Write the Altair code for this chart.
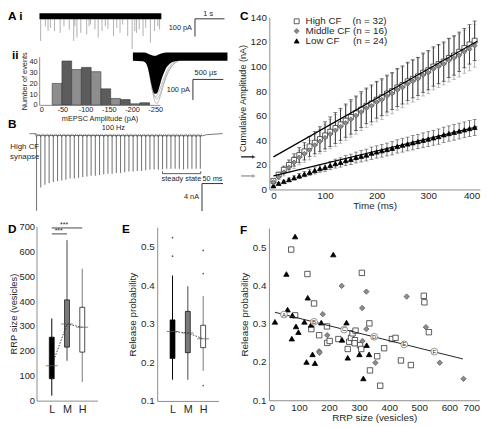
import altair as alt
import pandas as pd

CW, CH = 487, 419
DX, DY = 6, 5
def px(v): return v - DX
def py(v): return v - DY

FONT = "Liberation Sans"
AXC = "#8c8c8c"
INK = "#262626"
U = alt.Undefined

# ---------------- A i : spontaneous mEPSC trace ----------------
ai_event_t = [0.04, 0.20, 0.29, 0.37, 0.51, 0.70, 0.83, 1.01, 1.16, 1.20, 1.27, 1.40, 1.60, 1.68, 1.73,
              1.88, 1.99, 2.12, 2.23, 2.32, 2.51, 2.62, 2.73, 2.82, 2.99, 3.14, 3.23, 3.29, 3.38, 3.51,
              3.60, 3.76, 3.90, 4.01, 4.07]
ai_event_amp = [-139, -56, -83, -65, -83, -93, -56, -74, -139, -56, -120, -93, -102, -56, -46,
                -74, -120, -83, -56, -70, -111, -65, -93, -46, -111, -185, -83, -93, -74, -111,
                -65, -148, -83, -56, -74]
ai_trace_end = 4.13
ai_noise = 17
ai_bar_s, ai_bar_pA = 1.0, 100

# ---------------- A ii : amplitude histogram ----------------
aii_bin_lo = [-28, -49, -70, -91, -112, -133, -154, -175, -196, -217]
aii_bin_hi = [-49, -70, -91, -112, -133, -154, -175, -196, -217, -238]
aii_counts = [20, 41, 33, 35, 31, 15, 6, 5, 1, 2]

# ---------------- A ii : overlaid mEPSCs (us, pA) ----------------
aii_env_t = [0, 160, 210, 240, 270, 300, 330, 360, 390, 420, 450, 480, 520, 560, 600, 660, 760, 900, 1550]
aii_env_lo = [-20, -22, -30, -50, -85, -130, -165, -180, -178, -160, -130, -100, -70, -48, -35, -25, -20, -20, -20]
aii_env_hi = [20, 20, 19, 16, 12, 8, 5, 4, 6, 10, 14, 17, 19, 20, 20, 20, 20, 20, 20]
aii_g_t = [0, 200, 250, 290, 330, 370, 400, 440, 490, 550, 620, 720, 850, 1000, 1550]
aii_g1 = [0, -5, -40, -110, -180, -222, -225, -200, -150, -95, -55, -25, -8, 0, 0]
aii_g2 = [0, -5, -35, -95, -160, -200, -205, -185, -140, -90, -50, -22, -6, 0, 0]
aii_g3 = [0, -5, -45, -120, -175, -195, -185, -160, -120, -75, -40, -18, -5, 0, 0]
aii_bar_us, aii_bar_pA = 500, 100

# ---------------- B : 100 Hz train ----------------
b_t = [0, 10, 20, 30, 40, 50, 60, 70, 80, 90, 100, 110, 120, 130, 140, 150, 160, 170, 180, 190,
       200, 210, 220, 230, 240, 250, 260, 270, 280, 290, 300, 310, 320, 330, 340, 350, 360, 370, 380, 390]
b_amp = [11.1, 7.7, 7.3, 7.1, 6.9, 6.8, 6.7, 6.6, 6.4, 6.4, 6.3, 6.2, 6.1, 6.0, 6.0, 5.9, 5.8, 5.7, 5.7, 5.6,
         5.6, 5.5, 5.4, 5.4, 5.3, 5.3, 5.2, 5.1, 5.1, 5.1, 5.1, 5.0, 5.0, 5.0, 5.0, 5.1, 5.0, 5.0, 5.0, 5.0]
b_base_t = [-17, -1, 2, 395, 405, 443]
b_base_v = [0.1, 0.1, -0.15, -0.2, -0.05, 0.12]
b_bar_ms, b_bar_nA = 50, 4

# ---------------- C : cumulative amplitude ----------------
c_t = [0, 10, 20, 30, 40, 50, 60, 70, 80, 90, 100, 110, 120, 130, 140, 150, 160, 170, 180, 190,
       200, 210, 220, 230, 240, 250, 260, 270, 280, 290, 300, 310, 320, 330, 340, 350, 360, 370, 380, 390]
c_high = [7, 12, 16, 20, 24, 28, 31, 35, 38, 41, 44, 47, 50, 53, 56, 59, 62, 65, 68, 70,
          73, 75, 78, 80, 83, 85, 88, 90, 92, 95, 97, 100, 102, 104, 107, 109, 112, 115, 118, 121]
c_mid = [6, 10, 14, 18, 22, 26, 29, 32, 36, 39, 42, 45, 48, 51, 54, 57, 60, 63, 66, 68,
         71, 73, 76, 78, 81, 83, 86, 88, 90, 93, 95, 98, 100, 102, 105, 107, 109, 112, 114, 117]
c_low = [3, 5, 6.5, 8, 9.5, 11, 12.5, 14, 15.5, 17, 18, 19.5, 21, 22, 23.5, 24.5, 26, 27, 28, 29.5,
         30.5, 31.5, 32.5, 33.5, 35, 36, 37, 38, 39, 40, 41, 42, 43, 44.5, 45.5, 46.5, 47.5, 48.5, 49.5, 50.5]
c_high_err = [1, 2, 3, 4, 5, 6, 7, 8, 9, 10, 11, 12, 12.5, 13, 13.5, 14, 14, 14.5, 14.5, 15,
              15, 15, 15, 15, 15.5, 15.5, 15.5, 15.5, 15.5, 16, 16, 16, 16, 16, 16, 16, 16, 16, 16, 16]
c_mid_err = [1, 2, 3, 4, 5, 6, 7, 8, 9, 10, 11, 12, 13, 13.5, 14, 14.5, 15, 15, 15.5, 15.5,
             16, 16, 16, 16.5, 16.5, 16.5, 16.5, 17, 17, 17, 17, 17, 17, 17, 17.5, 17.5, 17.5, 17.5, 17.5, 17.5]
c_low_err = [0.5, 0.8, 1, 1.3, 1.6, 1.9, 2.2, 2.5, 2.8, 3, 3.2, 3.4, 3.6, 3.8, 4, 4.2, 4.4, 4.6, 4.8, 5,
             5, 5.2, 5.2, 5.4, 5.4, 5.6, 5.6, 5.8, 5.8, 6, 6, 6, 6.2, 6.2, 6.2, 6.4, 6.4, 6.4, 6.5, 6.5]
c_fit_t = [0, 395]
c_fit_high = [26.5, 120.5]
c_fit_low = [11, 51]
groups = ["High CF", "Middle CF", "Low CF"]
group_n = [32, 16, 24]

# ---------------- D / E : box plots ----------------
cats = ["L", "M", "H"]
d_wlo = [20, 160, 75]
d_q1 = [88, 215, 195]
d_med = [140, 308, 295]
d_q3 = [255, 405, 375]
d_whi = [330, 645, 530]
d_sig_y = [670, 694]
e_wlo = [0.155, 0.155, 0.178]
e_q1 = [0.21, 0.225, 0.238]
e_med = [0.280, 0.276, 0.261]
e_q3 = [0.310, 0.332, 0.296]
e_whi = [0.425, 0.397, 0.372]
e_out_cat = ["L", "L", "H", "H", "H"]
e_out_val = [0.475, 0.523, 0.43, 0.49, 0.14]

# ---------------- F : scatter ----------------
f_low_x = [20, 87, 58, 62, 78, 76, 90, 98, 118, 129, 140, 125, 145, 153, 174, 214, 243, 258, 262, 301, 325, 333, 314]
f_low_y = [0.305, 0.528, 0.430, 0.337, 0.322, 0.261, 0.293, 0.278, 0.305, 0.368, 0.297, 0.200, 0.220, 0.197,
           0.303, 0.481, 0.258, 0.303, 0.211, 0.220, 0.244, 0.220, 0.157]
f_high_x = [74, 87, 128, 150, 141, 167, 193, 194, 202, 231, 262, 267, 273, 278, 286, 288, 309, 303, 307, 334,
            336, 360, 370, 383, 409, 421, 439, 472, 515, 517, 532, 285]
f_high_y = [0.494, 0.322, 0.430, 0.353, 0.286, 0.270, 0.293, 0.250, 0.255, 0.260, 0.234, 0.253, 0.263, 0.275,
            0.257, 0.282, 0.433, 0.244, 0.234, 0.301, 0.178, 0.215, 0.138, 0.236, 0.260, 0.263, 0.204, 0.192,
            0.373, 0.356, 0.278, 0.249]
f_mid_x = [242, 324, 310, 179, 194, 167, 168, 324, 311, 354, 458, 522, 568, 647]
f_mid_y = [0.399, 0.384, 0.341, 0.325, 0.270, 0.228, 0.224, 0.286, 0.255, 0.198, 0.371, 0.291, 0.198, 0.156]
f_fit_x = [20, 645]
f_fit_y = [0.330, 0.208]
f_mark_x = [50, 150, 250, 350, 450, 550]
f_mark_y = [0.324, 0.305, 0.285, 0.266, 0.246, 0.227]
f_mark_lab = ["A", "B", "C", "D", "E", "F"]

# ======================================================================
one = pd.DataFrame({"k": [0]})

def QX(field, scale, axis=None):
    return alt.X(field, type="quantitative", scale=scale, axis=axis)

def QY(field, scale, axis=None):
    return alt.Y(field, type="quantitative", scale=scale, axis=axis)

def lin(domain, rng):
    return alt.Scale(domain=domain, range=rng, nice=False, zero=False)

def txt(size=7.5, **kw):
    return dict(font=FONT, fontSize=size, color=INK, **kw)

# ---------------- panel A i ----------------
ai_xs = lin([0, 10], [px(38), px(338)])
ai_ys = lin([-200, 0], [py(46), py(10)])
ai_ev = pd.DataFrame({"t": ai_event_t, "amp": ai_event_amp, "base": 0})
ai_band = pd.DataFrame({"t0": [0], "t1": [ai_trace_end], "lo": [-ai_noise], "hi": [ai_noise]})
ai_b0, ai_by = 5.27, -14
ai_sb = pd.DataFrame({"x": [ai_b0, ai_b0], "x2": [ai_b0 + ai_bar_s, ai_b0],
                      "y": [ai_by, ai_by], "y2": [ai_by, ai_by - ai_bar_pA]})
panel_ai = alt.layer(
    alt.Chart(ai_ev).mark_rule(color="#9c9c9c", strokeWidth=0.8).encode(
        x=QX("t", ai_xs), y=QY("base", ai_ys), y2="amp"),
    alt.Chart(ai_band).mark_rect(color="black").encode(
        x=QX("t0", ai_xs), x2="t1", y=QY("lo", ai_ys), y2="hi"),
    alt.Chart(ai_sb).mark_rule(color="#333", strokeWidth=1).encode(
        x=QX("x", ai_xs), x2="x2", y=QY("y", ai_ys), y2="y2"),
    alt.Chart(pd.DataFrame({"x": [ai_b0 + 0.45], "y": [ai_by], "s": ["1 s"]})).mark_text(
        baseline="bottom", dy=-1, **txt(7.5)).encode(x=QX("x", ai_xs), y=QY("y", ai_ys), text="s:N"),
    alt.Chart(pd.DataFrame({"x": [ai_b0], "y": [ai_by - ai_bar_pA / 2], "s": ["100 pA"]})).mark_text(
        align="right", dx=-3, **txt(7.5)).encode(x=QX("x", ai_xs), y=QY("y", ai_ys), text="s:N"),
)

# ---------------- panel A ii histogram ----------------
aii_xs = lin([0, -260], [px(37.7), px(160.4)])
aii_ys = lin([0, 45], [py(100), py(51)])
aii_df = pd.DataFrame({"lo": aii_bin_lo, "hi": aii_bin_hi, "n": aii_counts, "zero": 0,
                       "i": list(range(len(aii_counts)))})
aii_xaxis = alt.Axis(orient="bottom", offset=py(100) - CH, values=[0, -50, -100, -150, -200, -250],
                     labelExpr="'' + datum.value", title="mEPSC Amplitude (pA)",
                     labelFontSize=7.5, titleFontSize=7.5, labelPadding=1, titlePadding=1)
aii_yaxis = alt.Axis(orient="left", offset=-px(37.7), values=[0, 10, 20, 30, 40], title="Number of events",
                     labelFontSize=7.5, titleFontSize=7.5, labelPadding=2, titlePadding=1)
panel_aii = alt.layer(
    alt.Chart(aii_df).mark_rect(stroke="#3a3a3a", strokeWidth=0.6).encode(
        x=QX("lo", aii_xs, aii_xaxis), x2="hi", y=QY("n", aii_ys, aii_yaxis), y2="zero",
        fill=alt.condition("datum.i % 2 == 0", alt.value("#8e8e8e"), alt.value("#5c5c5c"))),
)

# ---------------- panel A ii overlaid traces ----------------
aiit_xs = lin([0, 2000], [px(133), px(257)])
aiit_ys = lin([-250, 0], [py(103.5), py(51)])
env_df = pd.DataFrame({"t": aii_env_t, "lo": aii_env_lo, "hi": aii_env_hi})
g_df = pd.DataFrame({"t": aii_g_t * 3, "v": aii_g1 + aii_g2 + aii_g3,
                     "id": [1] * len(aii_g_t) + [2] * len(aii_g_t) + [3] * len(aii_g_t)})
aii_b0 = 984
aii_sb = pd.DataFrame({"x": [aii_b0, aii_b0], "x2": [aii_b0 + aii_bar_us, aii_b0],
                       "y": [-110, -110], "y2": [-110, -110 - aii_bar_pA]})
panel_aiit = alt.layer(
    alt.Chart(g_df).mark_line(color="#a0a0a0", strokeWidth=0.7, interpolate="monotone").encode(
        x=QX("t", aiit_xs), y=QY("v", aiit_ys), detail="id:N"),
    alt.Chart(env_df).mark_area(color="black", interpolate="monotone").encode(
        x=QX("t", aiit_xs), y=QY("lo", aiit_ys), y2="hi"),
    alt.Chart(aii_sb).mark_rule(color="#333", strokeWidth=1).encode(
        x=QX("x", aiit_xs), x2="x2", y=QY("y", aiit_ys), y2="y2"),
    alt.Chart(pd.DataFrame({"x": [aii_b0 + 210], "y": [-110], "s": ["500 µs"]})).mark_text(
        baseline="bottom", dy=-2, **txt(7.5)).encode(x=QX("x", aiit_xs), y=QY("y", aiit_ys), text="s:N"),
    alt.Chart(pd.DataFrame({"x": [aii_b0], "y": [-160], "s": ["100 pA"]})).mark_text(
        align="right", dx=-3, **txt(7.5)).encode(x=QX("x", aiit_xs), y=QY("y", aiit_ys), text="s:N"),
)

# ---------------- panel B ----------------
b_xs = lin([-20, 450], [px(26.46), px(227.15)])
b_ys = lin([-12, 1], [py(214), py(123)])
b_df = pd.DataFrame({"t": b_t, "amp": [-a for a in b_amp], "base": -0.15})
b_base = pd.DataFrame({"t": b_base_t, "v": b_base_v})
b_sb0 = 394
b_sb_y = -7.14
b_sb = pd.DataFrame({"x": [b_sb0, b_sb0], "x2": [b_sb0 + b_bar_ms, b_sb0],
                     "y": [b_sb_y, b_sb_y], "y2": [b_sb_y, b_sb_y - b_bar_nA]})
ss_df = pd.DataFrame({"x": [300, 300, 391], "x2": [391, 300, 391],
                      "y": [-5.7, -5.7, -5.7], "y2": [-5.7, -5.35, -5.35]})
panel_b = alt.layer(
    alt.Chart(b_df).mark_rule(color="#7a7a7a", strokeWidth=1.1).encode(
        x=QX("t", b_xs), y=QY("base", b_ys), y2="amp"),
    alt.Chart(b_base).mark_line(color="#555", strokeWidth=0.8).encode(
        x=QX("t", b_xs), y=QY("v", b_ys)),
    alt.Chart(b_df).mark_point(shape="M -1 -1 L 0 1 L 1 -1", filled=False, size=10,
                               stroke="#444", strokeWidth=0.7).encode(
        x=QX("t", b_xs), y=QY("base", b_ys)),
    alt.Chart(b_sb).mark_rule(color="#333", strokeWidth=1).encode(
        x=QX("x", b_xs), x2="x2", y=QY("y", b_ys), y2="y2"),
    alt.Chart(ss_df).mark_rule(color="#333", strokeWidth=0.8).encode(
        x=QX("x", b_xs), x2="x2", y=QY("y", b_ys), y2="y2"),
    alt.Chart(pd.DataFrame({"x": [345], "y": [-5.7], "s": ["steady state"]})).mark_text(
        baseline="top", dy=1, **txt(7.5)).encode(x=QX("x", b_xs), y=QY("y", b_ys), text="s:N"),
    alt.Chart(pd.DataFrame({"x": [b_sb0 + 25], "y": [b_sb_y], "s": ["50 ms"]})).mark_text(
        baseline="bottom", dy=-1, **txt(7.5)).encode(x=QX("x", b_xs), y=QY("y", b_ys), text="s:N"),
    alt.Chart(pd.DataFrame({"x": [b_sb0], "y": [b_sb_y - 2], "s": ["4 nA"]})).mark_text(
        align="right", dx=-3, **txt(7.5)).encode(x=QX("x", b_xs), y=QY("y", b_ys), text="s:N"),
    alt.Chart(pd.DataFrame({"x": [183], "y": [0.2], "s": ["100 Hz"]})).mark_text(
        baseline="bottom", dy=-1, **txt(7.5)).encode(x=QX("x", b_xs), y=QY("y", b_ys), text="s:N"),
    alt.Chart(one).mark_text(lineBreak="\n", lineHeight=10, **txt(8)).encode(
        x=alt.value(px(23)), y=alt.value(py(143)), text=alt.value("High CF\nsynapse")),
)

# ---------------- panel C ----------------
c_xs = lin([-8, 400], [px(271.7), px(485.7)])
c_ys = lin([0, 140], [py(186), py(11)])
c_xaxis = alt.Axis(orient="bottom", offset=py(186) - CH, values=[0, 100, 200, 300, 400], title="Time (ms)",
                   labelFontSize=10, titleFontSize=10, labelPadding=1, titlePadding=0)
c_yaxis = alt.Axis(orient="left", offset=-px(271.7), values=[0, 20, 40, 60, 80, 100, 120, 140],
                   title="Cumulative Amplitude (nA)", labelFontSize=10, titleFontSize=9.2,
                   labelPadding=3, titlePadding=3, titleY=py(93))
nb = "\u00a0"
lab_expr = ("datum.label == 'High CF' ? 'High CF" + nb * 4 + "(n = %d)' : datum.label == 'Middle CF' ? "
            "'Middle CF" + nb + "(n = %d)' : 'Low CF" + nb * 5 + "(n = %d)'") % tuple(group_n)
legend = alt.Legend(orient="none", legendX=px(294.5), legendY=py(10), title=None, labelExpr=lab_expr,
                    labelFontSize=10, labelFont=FONT, labelColor=INK, symbolSize=25, symbolStrokeWidth=0.8,
                    rowPadding=0, padding=0, labelOffset=4)
shape_enc = alt.Shape("group:N", scale=alt.Scale(domain=groups, range=["square", "diamond", "triangle-up"]),
                      legend=legend)
fill_enc = alt.Fill("group:N", scale=alt.Scale(domain=groups, range=["white", "#8c8c8c", "black"]),
                    legend=legend)
stroke_enc = alt.Stroke("group:N", scale=alt.Scale(domain=groups, range=["#333333", "#5e5e5e", "black"]),
                        legend=legend)

c_df = pd.DataFrame({"t": c_t * 3, "v": c_high + c_mid + c_low, "e": c_high_err + c_mid_err + c_low_err,
                     "group": ["High CF"] * len(c_t) + ["Middle CF"] * len(c_t) + ["Low CF"] * len(c_t)})
c_df["lo"] = c_df["v"] - c_df["e"]
c_df["hi"] = c_df["v"] + c_df["e"]

def c_err(g, color):
    d = c_df[c_df["group"] == g]
    return [
        alt.Chart(d).mark_rule(color=color, strokeWidth=0.8).encode(
            x=QX("t", c_xs, U), y=QY("lo", c_ys, U), y2="hi"),
        alt.Chart(d).mark_tick(orient="horizontal", size=4, thickness=0.8, color=color).encode(
            x=QX("t", c_xs, U), y=QY("hi", c_ys, U)),
        alt.Chart(d).mark_tick(orient="horizontal", size=4, thickness=0.8, color=color).encode(
            x=QX("t", c_xs, U), y=QY("lo", c_ys, U)),
    ]

def c_pts(g):
    d = c_df[c_df["group"] == g]
    return alt.Chart(d).mark_point(filled=True, size=25, strokeWidth=0.8, opacity=1).encode(
        x=QX("t", c_xs, U), y=QY("v", c_ys, U), shape=shape_enc, fill=fill_enc, stroke=stroke_enc)

fit_df = pd.DataFrame({"t": c_fit_t * 2, "v": c_fit_high + c_fit_low, "id": [0, 0, 1, 1]})
arrow_df = pd.DataFrame({"v": [c_fit_high[0], c_fit_low[0]], "k": [0, 1]})
arrow_col = alt.condition("datum.k == 0", alt.value("black"), alt.value("#8a8a8a"))
panel_c = alt.layer(
    alt.Chart(c_df.iloc[:1]).mark_point(opacity=0).encode(
        x=QX("t", c_xs, c_xaxis), y=QY("v", c_ys, c_yaxis)),
    *c_err("Middle CF", "#9a9a9a"),
    *c_err("High CF", "#1a1a1a"),
    *c_err("Low CF", "#4a4a4a"),
    c_pts("Low CF"),
    c_pts("High CF"),
    c_pts("Middle CF"),
    alt.Chart(fit_df).mark_line(color="black", strokeWidth=1.2).encode(
        x=QX("t", c_xs, U), y=QY("v", c_ys, U), detail="id:N"),
    alt.Chart(arrow_df).mark_rule(strokeWidth=1.2).encode(
        x=alt.value(px(243)), x2=alt.value(px(255)), y=QY("v", c_ys, U), color=arrow_col),
    alt.Chart(arrow_df).mark_point(shape="triangle-right", filled=True, size=16).encode(
        x=alt.value(px(256)), y=QY("v", c_ys, U), color=arrow_col),
)

# ---------------- box plots D / E ----------------
box_fill = ["black", "#7a7a7a", "white"]
whisk_col = ["black", "#444444", "#777777"]

def box_panel(wlo, q1, med, q3, whi, xr, ys, yaxis, xaxis):
    xs = alt.Scale(type="point", domain=cats, range=xr, padding=1.07)
    df = pd.DataFrame({"g": cats, "k": [0, 1, 2], "wlo": wlo, "q1": q1, "med": med, "q3": q3, "whi": whi})
    XN = alt.X("g:N", scale=xs)
    layers = [alt.Chart(df).mark_point(opacity=0).encode(
        x=alt.X("g:N", scale=xs, axis=xaxis), y=QY("med", ys, yaxis))]
    for g, fc, wc in zip(cats, box_fill, whisk_col):
        d = df[df["g"] == g]
        layers.append(alt.Chart(d).mark_rule(color=wc, strokeWidth=1).encode(
            x=XN, y=QY("wlo", ys, U), y2="whi"))
        layers.append(alt.Chart(d).mark_bar(size=5, fill=fc, stroke="black", strokeWidth=0.7).encode(
            x=XN, y=QY("q1", ys, U), y2="q3"))
    layers.append(alt.Chart(df).mark_line(strokeDash=[1.5, 1.5], color="#222", strokeWidth=0.9).encode(
        x=XN, y=QY("med", ys, U), order="k:Q"))
    layers.append(alt.Chart(df).mark_tick(orient="horizontal", size=12, thickness=1, color="#555").encode(
        x=XN, y=QY("med", ys, U)))
    return xs, layers

d_ys = lin([0, 700], [py(400.7), py(223.6)])
d_yaxis = alt.Axis(orient="left", offset=-px(35), values=[0, 100, 200, 300, 400, 500, 600, 700],
                   title="RRP size (vesicles)", labelFontSize=9.5, titleFontSize=9.5, labelPadding=2,
                   titlePadding=0)
d_xaxis = alt.Axis(orient="bottom", offset=py(400.7) - CH, title=None, labelFontSize=11, labelPadding=3,
                   labelAngle=0)
d_xs, d_layers = box_panel(d_wlo, d_q1, d_med, d_q3, d_whi, [px(35), px(97)], d_ys, d_yaxis, d_xaxis)
sig_df = pd.DataFrame({"g": ["L", "M", "L", "H"], "y": [d_sig_y[0], d_sig_y[0], d_sig_y[1], d_sig_y[1]],
                       "id": [0, 0, 1, 1], "k": [0, 1, 0, 1]})
star_df = pd.DataFrame({"g": ["L", "M"], "y": d_sig_y, "s": ["***", "***"]})
d_layers += [
    alt.Chart(sig_df).mark_line(color="#333", strokeWidth=0.9).encode(
        x=alt.X("g:N", scale=d_xs), y=QY("y", d_ys, U), detail="id:N", order="k:Q"),
    alt.Chart(star_df.iloc[:1]).mark_text(baseline="bottom", dx=7, dy=0, **txt(7)).encode(
        x=alt.X("g:N", scale=d_xs), y=QY("y", d_ys, U), text="s:N"),
    alt.Chart(star_df.iloc[1:]).mark_text(baseline="bottom", dx=-3, dy=0, **txt(7)).encode(
        x=alt.X("g:N", scale=d_xs), y=QY("y", d_ys, U), text="s:N"),
]
panel_d = alt.layer(*d_layers)

e_ys = lin([0.1, 0.55], [py(401), py(224.4)])
e_yaxis = alt.Axis(orient="left", offset=-px(157.7), values=[0.1, 0.2, 0.3, 0.4, 0.5], format=".1f",
                   title="Release probability", labelFontSize=10, titleFontSize=10, labelPadding=3, titlePadding=3)
e_xaxis = alt.Axis(orient="bottom", offset=py(401) - CH, title=None, labelFontSize=11, labelPadding=3,
                   labelAngle=0)
e_xs, e_layers = box_panel(e_wlo, e_q1, e_med, e_q3, e_whi, [px(157.7), px(220)], e_ys, e_yaxis, e_xaxis)
e_out = pd.DataFrame({"g": e_out_cat, "v": e_out_val})
e_layers.append(alt.Chart(e_out).mark_circle(size=3, color="#555", opacity=1).encode(
    x=alt.X("g:N", scale=e_xs), y=QY("v", e_ys, U)))
panel_e = alt.layer(*e_layers)

# ---------------- panel F ----------------
f_xs = lin([0, 700], [px(271.3), px(485.3)])
f_ys = lin([0.1, 0.55], [py(400.3), py(225.3)])
f_xaxis = alt.Axis(orient="bottom", offset=py(400.3) - CH, values=[0, 100, 200, 300, 400, 500, 600, 700],
                   title="RRP size (vesicles)", labelFontSize=10, titleFontSize=10, labelPadding=2, titlePadding=1)
f_yaxis = alt.Axis(orient="left", offset=-px(271.3), values=[0.1, 0.2, 0.3, 0.4, 0.5], format=".1f",
                   title="Release probability", labelFontSize=10, titleFontSize=10, labelPadding=3, titlePadding=3)
f_df = pd.DataFrame({"x": f_high_x + f_mid_x + f_low_x, "y": f_high_y + f_mid_y + f_low_y,
                     "group": ["High CF"] * len(f_high_x) + ["Middle CF"] * len(f_mid_x) + ["Low CF"] * len(f_low_x)})
f_fit = pd.DataFrame({"x": f_fit_x, "y": f_fit_y})
f_mk = pd.DataFrame({"x": f_mark_x, "y": f_mark_y, "s": f_mark_lab})
panel_f = alt.layer(
    alt.Chart(f_df).mark_point(filled=True, size=30, strokeWidth=0.8, opacity=1).encode(
        x=QX("x", f_xs, f_xaxis), y=QY("y", f_ys, f_yaxis), shape=shape_enc, fill=fill_enc, stroke=stroke_enc),
    alt.Chart(f_fit).mark_line(color="#222", strokeWidth=1).encode(x=QX("x", f_xs, U), y=QY("y", f_ys, U)),
    alt.Chart(f_mk).mark_point(shape="circle", filled=True, fill="white", stroke="#777", strokeWidth=0.8,
                               size=48, opacity=1).encode(x=QX("x", f_xs, U), y=QY("y", f_ys, U)),
    alt.Chart(f_mk).mark_text(**txt(6, fontWeight="normal")).encode(
        x=QX("x", f_xs, U), y=QY("y", f_ys, U), text="s:N"),
)

# ---------------- panel letters ----------------
def letter(s, x, y):
    return alt.Chart(one).mark_text(font=FONT, fontSize=12, fontWeight="bold", color="black",
                                    align="left", baseline="top").encode(
        x=alt.value(x), y=alt.value(y), text=alt.value(s))

letters = alt.layer(
    letter("A i", 0, 0), letter("ii", px(10), py(44)), letter("B", 0, py(114)),
    letter("C", px(242), 0), letter("D", 0, py(221)), letter("E", px(122), py(221)),
    letter("F", px(242), py(222)),
)

chart = alt.layer(panel_ai, panel_aii, panel_aiit, panel_b, panel_c, panel_d, panel_e, panel_f, letters).resolve_scale(
    x="independent", y="independent"
).properties(
    width=CW, height=CH, padding=0, autosize=alt.AutoSizeParams(type="none")
).configure_view(stroke=None).configure_axis(
    domainColor=AXC, domainWidth=1, ticks=False, grid=False, labelColor=INK, titleColor=INK,
    labelFont=FONT, titleFont=FONT, titleFontWeight="normal"
)

chart.save("out.html", embed_options={"renderer": "svg", "actions": False})
